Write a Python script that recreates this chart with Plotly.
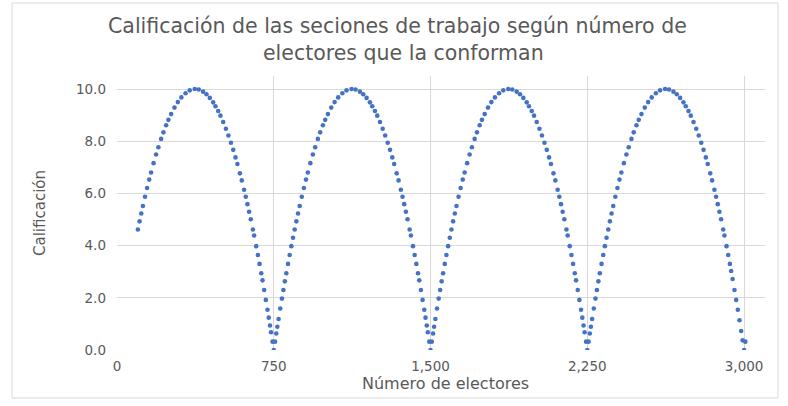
import plotly.graph_objects as go

# Número de electores (x) y calificación (y), por tramo
electores_1 = [100, 108, 116, 124, 134, 144, 154, 163, 175, 187, 198, 211, 222, 235, 246, 259, 275, 291, 308, 328, 348, 372,
               391, 412, 428, 444, 460, 471, 484, 495, 508, 521, 533, 545, 556, 567, 576, 588, 597, 608, 616, 624, 632, 640,
               650, 656, 666, 674, 682, 690, 696, 704, 712, 720, 726, 732, 737, 744]
calif_1 = [4.62, 4.93, 5.23, 5.52, 5.87, 6.21, 6.53, 6.80, 7.16, 7.49, 7.77, 8.09, 8.34, 8.61, 8.82, 9.04, 9.29, 9.50, 9.68, 9.84, 9.95, 10.00,
           9.98, 9.90, 9.80, 9.66, 9.49, 9.34, 9.16, 8.98, 8.74, 8.48, 8.22, 7.94, 7.67, 7.38, 7.13, 6.77, 6.50, 6.14, 5.87, 5.59, 5.30, 5.01,
           4.62, 4.39, 3.98, 3.64, 3.30, 2.94, 2.67, 2.30, 1.92, 1.54, 1.24, 0.94, 0.68, 0.32]

electores_2 = [750, 756, 762, 767, 773, 781, 789, 796, 803, 810, 818, 826, 834, 842, 850, 858, 866, 874, 884, 894, 904, 913,
               925, 937, 948, 961, 972, 985, 996, 1009, 1025, 1041, 1058, 1078, 1098, 1122,
               1141, 1162, 1178, 1194, 1210, 1221, 1234, 1245, 1258, 1271, 1283, 1295, 1306, 1317, 1326, 1338, 1347, 1358,
               1366, 1374, 1382, 1390, 1400, 1406, 1416, 1424, 1432, 1440, 1446, 1454, 1462, 1470, 1476, 1482, 1487, 1494]
calif_2 = [0.00, 0.32, 0.63, 0.89, 1.19, 1.59, 1.97, 2.30, 2.63, 2.94, 3.30, 3.64, 3.98, 4.30, 4.62, 4.93, 5.23, 5.52, 5.87, 6.21, 6.53, 6.80,
           7.16, 7.49, 7.77, 8.09, 8.34, 8.61, 8.82, 9.04, 9.29, 9.50, 9.68, 9.84, 9.95, 10.00,
           9.98, 9.90, 9.80, 9.66, 9.49, 9.34, 9.16, 8.98, 8.74, 8.48, 8.22, 7.94, 7.67, 7.38, 7.13, 6.77, 6.50, 6.14,
           5.87, 5.59, 5.30, 5.01, 4.62, 4.39, 3.98, 3.64, 3.30, 2.94, 2.67, 2.30, 1.92, 1.54, 1.24, 0.94, 0.68, 0.32]

electores_3 = [1500, 1506, 1512, 1517, 1523, 1531, 1539, 1546, 1553, 1560, 1568, 1576, 1584, 1592, 1600, 1608, 1616, 1624, 1634, 1644, 1654, 1663,
               1675, 1687, 1698, 1711, 1722, 1735, 1746, 1759, 1775, 1791, 1808, 1828, 1848, 1872,
               1891, 1912, 1928, 1944, 1960, 1971, 1984, 1995, 2008, 2021, 2033, 2045, 2056, 2067, 2076, 2088, 2097, 2108,
               2116, 2124, 2132, 2140, 2150, 2156, 2166, 2174, 2182, 2190, 2196, 2204, 2212, 2220, 2226, 2232, 2237, 2244]
calif_3 = [0.00, 0.32, 0.63, 0.89, 1.19, 1.59, 1.97, 2.30, 2.63, 2.94, 3.30, 3.64, 3.98, 4.30, 4.62, 4.93, 5.23, 5.52, 5.87, 6.21, 6.53, 6.80,
           7.16, 7.49, 7.77, 8.09, 8.34, 8.61, 8.82, 9.04, 9.29, 9.50, 9.68, 9.84, 9.95, 10.00,
           9.98, 9.90, 9.80, 9.66, 9.49, 9.34, 9.16, 8.98, 8.74, 8.48, 8.22, 7.94, 7.67, 7.38, 7.13, 6.77, 6.50, 6.14,
           5.87, 5.59, 5.30, 5.01, 4.62, 4.39, 3.98, 3.64, 3.30, 2.94, 2.67, 2.30, 1.92, 1.54, 1.24, 0.94, 0.68, 0.32]

electores_4 = [2250, 2256, 2262, 2267, 2273, 2281, 2289, 2296, 2303, 2310, 2318, 2326, 2334, 2342, 2350, 2358, 2366, 2374, 2384, 2394, 2404, 2413,
               2425, 2437, 2448, 2461, 2472, 2485, 2496, 2509, 2525, 2541, 2558, 2578, 2598, 2622,
               2641, 2662, 2678, 2694, 2710, 2721, 2734, 2745, 2758, 2771, 2783, 2795, 2806, 2817, 2826, 2838, 2847, 2858,
               2866, 2874, 2882, 2890, 2900, 2906, 2916, 2924, 2932, 2938, 2945, 2954, 2962, 2970, 2978, 2986, 2993, 3000, 3006]
calif_4 = [0.00, 0.32, 0.63, 0.89, 1.19, 1.59, 1.97, 2.30, 2.63, 2.94, 3.30, 3.64, 3.98, 4.30, 4.62, 4.93, 5.23, 5.52, 5.87, 6.21, 6.53, 6.80,
           7.16, 7.49, 7.77, 8.09, 8.34, 8.61, 8.82, 9.04, 9.29, 9.50, 9.68, 9.84, 9.95, 10.00,
           9.98, 9.90, 9.80, 9.66, 9.49, 9.34, 9.16, 8.98, 8.74, 8.48, 8.22, 7.94, 7.67, 7.38, 7.13, 6.77, 6.50, 6.14,
           5.87, 5.59, 5.30, 5.01, 4.62, 4.39, 3.98, 3.64, 3.30, 3.03, 2.72, 2.30, 1.92, 1.54, 1.14, 0.73, 0.37, 0.00, 0.32]

x_ticks = [0, 750, 1500, 2250, 3000]
x_tick_labels = ["0", "750", "1,500", "2,250", "3,000"]
y_ticks = [0, 2, 4, 6, 8, 10]
y_tick_labels = ["0.0", "2.0", "4.0", "6.0", "8.0", "10.0"]

titulo_lineas = ["Calificación de las seciones de trabajo según número de",
                 "electores que la conforman"]
titulo_x = "Número de electores"
titulo_y = "Calificación"

x_all = electores_1 + electores_2 + electores_3 + electores_4
y_all = calif_1 + calif_2 + calif_3 + calif_4

FONT = "DejaVu Sans"
GREY = "#595959"
GRID = "#D9D9D9"
W, H = 788, 406
L, R, T, B = 117, 23, 76, 56
PW, PH = W - L - R, H - T - B


def px_x(p):
    return (p - L) / PW


def px_y(p):
    return (H - B - p) / PH


fig = go.Figure()
fig.add_trace(go.Scatter(
    x=x_all, y=y_all, mode="markers",
    marker=dict(color="#4472C4", size=4.6, line=dict(width=0)),
    showlegend=False, hoverinfo="x+y",
))

annotations = [
    dict(text=titulo_lineas[0], xref="paper", yref="paper", x=px_x(397), y=px_y(26),
         xanchor="center", yanchor="middle", showarrow=False,
         font=dict(family=FONT, size=20.5, color=GREY)),
    dict(text=titulo_lineas[1], xref="paper", yref="paper", x=px_x(403), y=px_y(53),
         xanchor="center", yanchor="middle", showarrow=False,
         font=dict(family=FONT, size=20.5, color=GREY)),
    dict(text=titulo_x, xref="paper", yref="paper", x=px_x(445), y=px_y(383),
         xanchor="center", yanchor="middle", showarrow=False,
         font=dict(family=FONT, size=16, color=GREY)),
    dict(text=titulo_y, xref="paper", yref="paper", x=px_x(40), y=px_y(213),
         xanchor="center", yanchor="middle", showarrow=False, textangle=-90,
         font=dict(family=FONT, size=15, color=GREY)),
]

fig.update_layout(
    width=W, height=H,
    margin=dict(l=L, r=R, t=T, b=B),
    paper_bgcolor="white", plot_bgcolor="white",
    font=dict(family=FONT, color=GREY, size=13),
    xaxis=dict(range=[0, 3100], tickvals=x_ticks, ticktext=x_tick_labels,
               showgrid=True, gridcolor=GRID, gridwidth=1, zeroline=False,
               showline=False, ticks="", ticklabelstandoff=6,
               tickfont=dict(family=FONT, size=13.5, color=GREY), fixedrange=True),
    yaxis=dict(range=[0, 10.5], tickvals=y_ticks, ticktext=y_tick_labels,
               showgrid=True, gridcolor=GRID, gridwidth=1, zeroline=False,
               showline=False, ticks="", ticklabelstandoff=10,
               tickfont=dict(family=FONT, size=13.5, color=GREY), fixedrange=True),
    annotations=annotations,
    shapes=[
        dict(type="rect", xref="paper", yref="paper",
             x0=px_x(12), x1=px_x(778), y0=px_y(398), y1=px_y(3),
             line=dict(color=GRID, width=1), fillcolor="rgba(0,0,0,0)", layer="below"),
    ],
)

fig.write_html("out.html", include_plotlyjs=True, full_html=True,
               config={"displayModeBar": False},
               post_script="document.body.style.margin='0';")
